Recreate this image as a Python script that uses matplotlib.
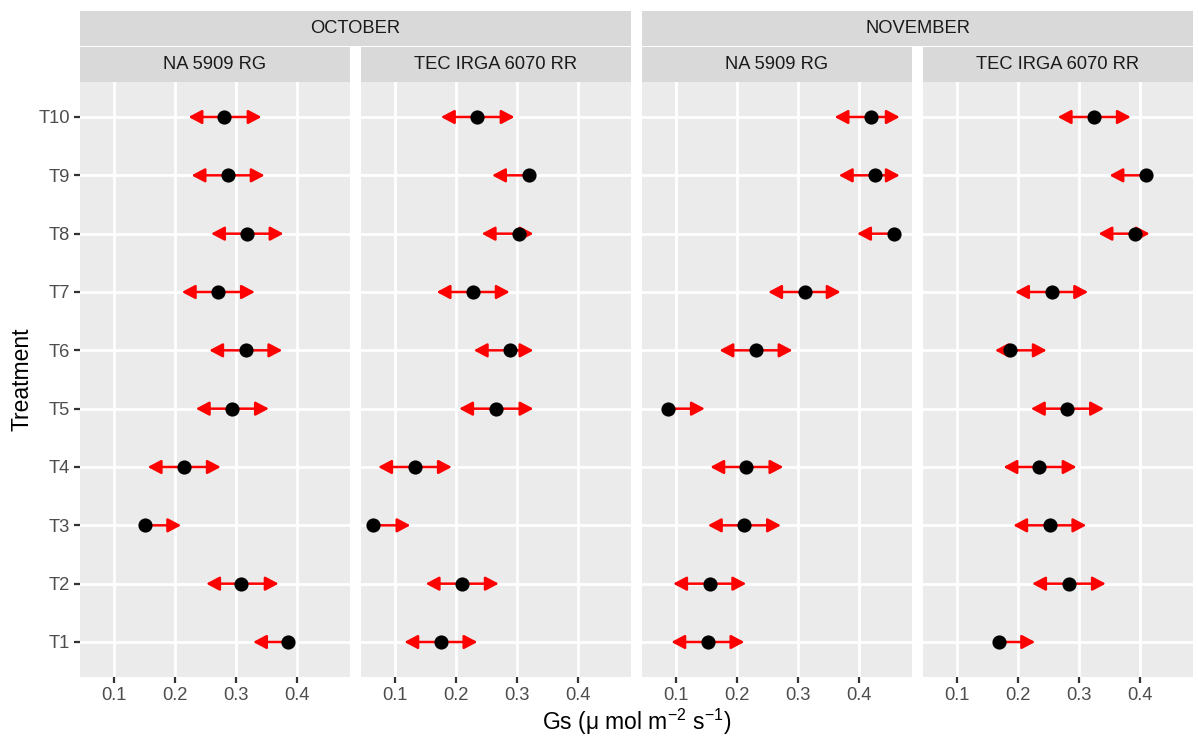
import numpy as np
import matplotlib
matplotlib.use("Agg")
import matplotlib.pyplot as plt
from matplotlib.patches import FancyArrowPatch, Rectangle

plt.rcParams['font.family'] = ['Liberation Sans', 'DejaVu Sans']
plt.rcParams['mathtext.fontset'] = 'custom'
plt.rcParams['mathtext.rm'] = 'Liberation Sans'

treatments = ['T1', 'T2', 'T3', 'T4', 'T5', 'T6', 'T7', 'T8', 'T9', 'T10']
months = ['OCTOBER', 'NOVEMBER']
devices = ['NA 5909 RG', 'TEC IRGA 6070 RR']

# Gs means with lower / upper limits, T1..T10
oct_na_mean = [0.386, 0.309, 0.150, 0.215, 0.293, 0.316, 0.271, 0.318, 0.287, 0.281]
oct_na_lo = [0.328, 0.251, 0.150, 0.155, 0.234, 0.256, 0.211, 0.259, 0.227, 0.222]
oct_na_hi = [0.386, 0.370, 0.210, 0.275, 0.354, 0.376, 0.331, 0.378, 0.347, 0.342]

oct_tec_mean = [0.175, 0.210, 0.064, 0.132, 0.265, 0.289, 0.227, 0.303, 0.320, 0.235]
oct_tec_lo = [0.115, 0.150, 0.064, 0.072, 0.205, 0.229, 0.168, 0.242, 0.259, 0.175]
oct_tec_hi = [0.235, 0.270, 0.125, 0.193, 0.327, 0.327, 0.288, 0.327, 0.320, 0.296]

nov_na_mean = [0.152, 0.155, 0.212, 0.215, 0.087, 0.231, 0.311, 0.457, 0.426, 0.420]
nov_na_lo = [0.092, 0.095, 0.152, 0.156, 0.087, 0.171, 0.251, 0.397, 0.367, 0.360]
nov_na_hi = [0.212, 0.215, 0.272, 0.276, 0.147, 0.291, 0.370, 0.457, 0.467, 0.467]

nov_tec_mean = [0.168, 0.283, 0.252, 0.235, 0.281, 0.186, 0.255, 0.392, 0.410, 0.325]
nov_tec_lo = [0.168, 0.223, 0.192, 0.176, 0.221, 0.162, 0.195, 0.332, 0.350, 0.265]
nov_tec_hi = [0.228, 0.344, 0.312, 0.296, 0.341, 0.247, 0.315, 0.416, 0.410, 0.385]

panels = [
    (oct_na_mean, oct_na_lo, oct_na_hi),
    (oct_tec_mean, oct_tec_lo, oct_tec_hi),
    (nov_na_mean, nov_na_lo, nov_na_hi),
    (nov_tec_mean, nov_tec_lo, nov_tec_hi),
]

W, H = 1198, 736
fig = plt.figure(figsize=(W / 150, H / 150), dpi=150)

# shared x range with 5% padding like ggplot
allv = np.concatenate([np.r_[m, l, h] for m, l, h in panels])
xmin, xmax = allv.min(), allv.max()
pad = (xmax - xmin) * 0.05
xlim = (xmin - pad, xmax + pad)

lefts = [80, 361, 642, 923]
pw = 270
ptop, pbot = 82, 677
strip_h = 35

def fx(px):
    return px / W

def fy(py):
    return 1 - py / H

y = np.arange(1, len(treatments) + 1)
axes = []
for i, (mean, lo, hi) in enumerate(panels):
    ax = fig.add_axes([fx(lefts[i]), fy(pbot), pw / W, (pbot - ptop) / H])
    ax.set_facecolor('#EBEBEB')
    for s in ax.spines.values():
        s.set_visible(False)
    ax.set_xlim(xlim)
    ax.set_ylim(0.4, len(treatments) + 0.6)
    ax.set_xticks([0.1, 0.2, 0.3, 0.4])
    ax.set_xticklabels(['0.1', '0.2', '0.3', '0.4'])
    ax.set_yticks(y)
    ax.set_yticklabels(treatments if i == 0 else [])
    ax.tick_params(axis='both', length=2.75, width=1.07, color='#333333',
                   labelcolor='#4D4D4D', labelsize=8.8, pad=2.2)
    if i > 0:
        ax.tick_params(axis='y', length=0)
    ax.grid(True, color='white', linewidth=1.3)
    ax.set_axisbelow(True)

    for yy, m, a, b in zip(y, mean, lo, hi):
        for end in (a, b):
            if abs(end - m) > 1e-9:
                arr = FancyArrowPatch((m, yy), (end, yy),
                                      arrowstyle='-|>,head_length=5.3,head_width=2.8',
                                      mutation_scale=1, color='red', linewidth=1.2,
                                      shrinkA=0, shrinkB=0, zorder=3)
                ax.add_patch(arr)
    ax.plot(mean, y, 'o', color='black', markersize=5.8, zorder=4)
    axes.append(ax)

# strips: device row per panel, month row spanning two panels
for i in range(4):
    fig.patches.append(Rectangle((fx(lefts[i]), fy(ptop)), pw / W, strip_h / H,
                                 transform=fig.transFigure, facecolor='#D9D9D9',
                                 edgecolor='none'))
    fig.text(fx(lefts[i] + pw / 2), fy(ptop - strip_h / 2), devices[i % 2],
             ha='center', va='center', fontsize=8.8, color='#1A1A1A')
for j in range(2):
    x0 = lefts[2 * j]
    x1 = lefts[2 * j + 1] + pw
    top = ptop - strip_h - 1
    fig.patches.append(Rectangle((fx(x0), fy(top)), (x1 - x0) / W, strip_h / H,
                                 transform=fig.transFigure, facecolor='#D9D9D9',
                                 edgecolor='none'))
    fig.text(fx((x0 + x1) / 2), fy(top - strip_h / 2), months[j],
             ha='center', va='center', fontsize=8.8, color='#1A1A1A')

fig.text(fx((lefts[0] + lefts[3] + pw) / 2), fy(722),
         r'Gs ($\mathregular{\mu}$ mol m$^{-2}$ s$^{-1}$)',
         ha='center', va='center', fontsize=11, color='black')
fig.text(fx(22), fy((ptop + pbot) / 2), 'Treatment', rotation=90,
         ha='center', va='center', fontsize=11, color='black')

fig.savefig('out.png', dpi=150)
